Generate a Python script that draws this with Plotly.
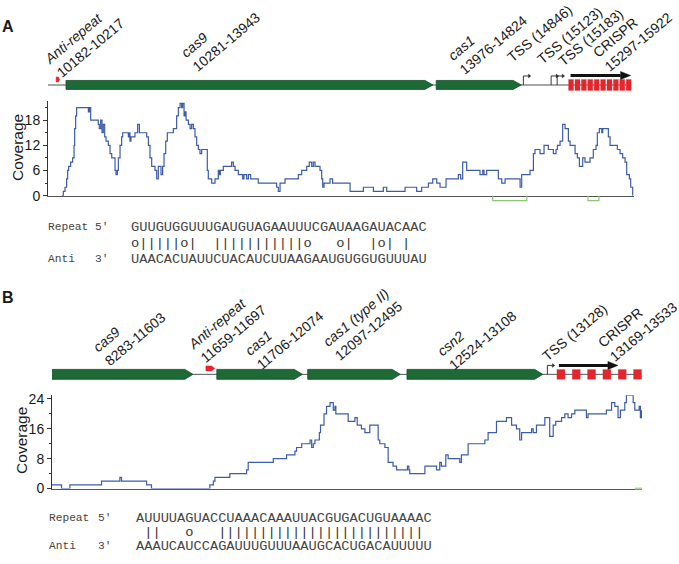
import plotly.graph_objects as go

W, H = 679, 564
FIG_W, FIG_H = 679, 572   # fills the browser viewport; paper fractions are laid out on W x H

# ======================= DATA =======================
# ---- Panel A (genomic coordinates, bp) ----
genes_A_names = ["cas9", "cas1"]
genes_A_start = [10281, 13976]
genes_A_end = [13943, 14824]
anti_A = [10182, 10217]
tss_A = [14846, 15123, 15183]
crispr_A = [15297, 15922]
crispr_A_repeats = 10
green_A_start = [14540, 15490]
green_A_end = [14880, 15600]

cov_A_pos = [10240, 10254, 10271, 10287, 10297, 10307, 10327, 10347, 10361, 10367, 10377, 10387,
             10504, 10514, 10527, 10603, 10613, 10627, 10640, 10653, 10667, 10680, 10703, 10720,
             10737, 10770, 10780, 10793, 10803, 10820, 10836, 10846, 10903, 10913, 10919, 10929,
             10969, 10996, 11013, 11086, 11103, 11119, 11136, 11169, 11186, 11202, 11229, 11245,
             11259, 11276, 11292, 11352, 11385, 11402, 11419, 11435, 11445, 11459, 11469, 11479,
             11502, 11519, 11535, 11552, 11568, 11585, 11602, 11618, 11635, 11691, 11701, 11735,
             11768, 11801, 11811, 11821, 11851, 11934, 11951, 11968, 12001, 12044, 12057, 12084,
             12101, 12124, 12200, 12383, 12400, 12417, 12467, 12600, 12633, 12683, 12709, 12733,
             12749, 12766, 12816, 12833, 12843, 12856, 12916, 12942, 13116, 13249, 13349, 13448,
             13482, 13665, 13781, 13831, 13898, 13941, 13981, 14014, 14074, 14197, 14220, 14240,
             14280, 14413, 14440, 14453, 14480, 14596, 14630, 14663, 14813, 14829, 14912, 14946,
             14962, 15012, 15052, 15095, 15145, 15172, 15185, 15212, 15238, 15262, 15295, 15312,
             15362, 15385, 15405, 15438, 15461, 15511, 15544, 15571, 15584, 15604, 15628, 15638,
             15694, 15711, 15784, 15811, 15837, 15861, 15877, 15904, 15917, 15937]
cov_A_val = [0, 1, 2, 4, 6, 7, 8, 9, 12, 16, 19, 21,
             20, 21, 18, 17, 16, 18, 15, 17, 14, 13, 12, 10,
             9, 6, 5, 6, 9, 12, 14, 15, 14, 15, 13, 14,
             15, 17, 15, 14, 12, 9, 7, 6, 4, 7, 5, 7,
             10, 13, 15, 16, 19, 21, 22, 21, 22, 19, 20, 18,
             17, 16, 17, 16, 14, 12, 11, 10, 11, 6, 4, 3,
             4, 6, 5, 6, 7, 8, 7, 6, 5, 4, 5, 4,
             5, 4, 3, 2, 1, 3, 4, 5, 6, 7, 8, 7,
             8, 7, 6, 4, 2, 3, 4, 3, 1, 2, 1, 2,
             1, 2, 1, 2, 3, 4, 3, 2, 4, 5, 4, 8,
             6, 5, 6, 5, 6, 4, 3, 4, 2, 5, 6, 10,
             11, 10, 12, 11, 10, 11, 12, 13, 17, 16, 13, 12,
             10, 9, 7, 9, 8, 9, 11, 12, 15, 16, 15, 16,
             14, 12, 11, 10, 9, 8, 5, 4, 2, 0]

# ---- Panel B ----
genes_B_names = ["cas9", "cas1", "cas1 (type II)", "csn2"]
genes_B_start = [8283, 11706, 12097, 12524]
genes_B_end = [11603, 12074, 12495, 13108]
anti_B = [11659, 11697]
tss_B = [13128]
crispr_B = [13169, 13533]
crispr_B_repeats = 6
green_B_start = [13505]
green_B_end = [13535]

cov_B_pos = [10997, 11038, 11074, 11210, 11289, 11296, 11404, 11425, 11676, 11691, 11698, 11762,
             11834, 11841, 11949, 12006, 12042, 12049, 12071, 12107, 12114, 12121, 12128, 12147,
             12152, 12167, 12178, 12193, 12207, 12214, 12218, 12271, 12300, 12310, 12328, 12343,
             12364, 12400, 12407, 12429, 12443, 12464, 12479, 12526, 12532, 12536, 12601, 12651,
             12665, 12672, 12691, 12701, 12751, 12758, 12787, 12859, 12873, 12909, 12952, 12974,
             12995, 13009, 13017, 13060, 13067, 13081, 13117, 13138, 13153, 13164, 13189, 13203,
             13217, 13232, 13246, 13296, 13303, 13382, 13404, 13418, 13432, 13442, 13461, 13468,
             13497, 13504, 13523, 13528, 13533]
cov_B_val = [1, 0, 1, 2, 3, 2, 1, 0, 1, 2, 3, 4,
             5, 7, 8, 9, 10, 11, 12, 13, 11, 12, 13, 15,
             17, 20, 22, 23, 21, 22, 20, 18, 19, 17, 16, 15,
             17, 13, 12, 11, 7, 6, 5, 6, 5, 4, 6, 5,
             7, 6, 9, 8, 7, 9, 12, 13, 15, 18, 19, 17,
             16, 13, 15, 16, 15, 17, 19, 14, 17, 18, 19, 20,
             19, 20, 21, 19, 20, 21, 23, 22, 19, 21, 23, 25,
             23, 21, 22, 19, 21]

# ---- sequence alignments ----
repeat_A = "GUUGUGGUUUGAUGUAGAAUUUCGAUAAGAUACAAC"
match_A = "o|||||o|  |||||||||||o   o|  |o| |"
anti_seq_A = "UAACACUAUUCUACAUCUUAAGAAUGUGGUGUUUAU"
repeat_B = "AUUUUAGUACCUAAACAAAUUACGUGACUGUAAAAC"
match_B = " ||   o   |||||||||||||||||||||||||"
anti_seq_B = "AAAUCAUCCAGAUUUGUUUAAUGCACUGACAUUUUU"

# ======================= LAYOUT / STYLE =======================
A_XRANGE = [10101, 15950]
B_XRANGE = [10997, 13535]
A_PX = (48, 634)
B_PX = (52, 642)
A_COV_PY = (98, 193)
B_COV_PY = (394, 488)
A_TRACK_PY = (0, 100)
B_TRACK_PY = (280, 392)

GREEN = "#1d6a37"
GREEN_EDGE = "#124d26"
RED = "#e3262c"
COV = "#3c5ca8"
LGREEN = "#8cc873"
FONT = "Liberation Sans"
MONO = "Liberation Mono"


def fx(p):
    return p / W


def fy(p):
    return 1 - p / H


fig = go.Figure()

# ---- coverage traces ----
fig.add_trace(go.Scatter(x=cov_A_pos, y=cov_A_val, mode="lines",
                         line=dict(shape="hv", color=COV, width=1.2),
                         xaxis="x", yaxis="y", hoverinfo="skip", showlegend=False))
fig.add_trace(go.Scatter(x=cov_B_pos, y=cov_B_val, mode="lines",
                         line=dict(shape="hv", color=COV, width=1.2),
                         xaxis="x2", yaxis="y2", hoverinfo="skip", showlegend=False))


def poly(xs, ys, xa, ya, fill, edge=None, ew=0.0):
    fig.add_trace(go.Scatter(x=xs, y=ys, mode="lines", fill="toself", fillcolor=fill,
                             line=dict(color=edge or fill, width=ew),
                             xaxis=xa, yaxis=ya, hoverinfo="skip", showlegend=False))


def line(xs, ys, xa, ya, color, width):
    fig.add_trace(go.Scatter(x=xs, y=ys, mode="lines", line=dict(color=color, width=width),
                             xaxis=xa, yaxis=ya, hoverinfo="skip", showlegend=False))


def draw_track(xa, ya, xrange, pxr, yc, hh, starts, ends, anti, tss, crispr, nrep,
               box_px, box_hh, arrow_y, arrow_px, back_color, back_w, anti_dy):
    bp_per_px = (xrange[1] - xrange[0]) / (pxr[1] - pxr[0])
    # backbone
    line([xrange[0], crispr[1]], [yc, yc], xa, ya, back_color, back_w)
    # genes
    tip = 8 * bp_per_px
    for s, e in zip(starts, ends):
        poly([s, e - tip, e, e - tip, s, s], [yc - hh, yc - hh, yc, yc + hh, yc + hh, yc - hh],
             xa, ya, GREEN, GREEN_EDGE, 0.8)
    # anti-repeat marker
    s, e = anti
    t = 0.35 * (e - s)
    ay = yc - anti_dy
    poly([s, e - t, e, e - t, s, s], [ay - 2.5, ay - 2.5, ay, ay + 2.5, ay + 2.5, ay - 2.5],
         xa, ya, RED, RED, 0.5)
    # CRISPR repeats
    bw = box_px * bp_per_px
    pitch = (crispr[1] - crispr[0] - bw) / (nrep - 1)
    bx, by = [], []
    for i in range(nrep):
        x0 = crispr[0] + i * pitch
        bx += [x0, x0 + bw, x0 + bw, x0, x0, None]
        by += [yc - box_hh, yc - box_hh, yc + box_hh, yc + box_hh, yc - box_hh, None]
    poly(bx, by, xa, ya, RED, RED, 0.3)
    # transcription arrow
    x0 = crispr[0] + 2 * bp_per_px
    x1 = x0 + arrow_px * bp_per_px
    head = 10 * bp_per_px
    line([x0, x1 - head], [arrow_y, arrow_y], xa, ya, "#111111", 3)
    poly([x1 - head, x1, x1 - head, x1 - head], [arrow_y - 4, arrow_y, arrow_y + 4, arrow_y - 4],
         xa, ya, "#111111", "#111111", 0.5)
    # TSS bent arrows
    for tx in tss:
        top = yc - 9
        xr = tx + 5 * bp_per_px
        line([tx, tx, xr], [yc, top, top], xa, ya, "#222222", 0.9)
        poly([xr, xr + 2.5 * bp_per_px, xr, xr], [top - 2, top, top + 2, top - 2],
             xa, ya, "#222222", "#222222", 0.3)


draw_track("x", "y3", A_XRANGE, A_PX, 81.5, 4.5, genes_A_start, genes_A_end, anti_A, tss_A,
           crispr_A, crispr_A_repeats, 5, 5.5, 72, 60, "#8a8a8a", 1.5, 5.5)
draw_track("x2", "y4", B_XRANGE, B_PX, 373, 5, genes_B_start, genes_B_end, anti_B, tss_B,
           crispr_B, crispr_B_repeats, 8, 5, 364, 59, "#555555", 1.0, 6)

shapes = []
# green brackets under panel A coverage axis
for s, e in zip(green_A_start, green_A_end):
    shapes.append(dict(type="path", xref="x", yref="paper",
                       path=f"M {s},{fy(A_COV_PY[1])} L {s},{fy(A_COV_PY[1] + 5)} "
                            f"L {e},{fy(A_COV_PY[1] + 5)} L {e},{fy(A_COV_PY[1])}",
                       line=dict(color=LGREEN, width=1.2)))
for s, e in zip(green_B_start, green_B_end):
    shapes.append(dict(type="line", xref="x2", yref="paper", x0=s, x1=e,
                       y0=fy(B_COV_PY[1]), y1=fy(B_COV_PY[1]),
                       line=dict(color="#a6d98a", width=2)))

annotations = []


def ann(text, x, y, size, angle=0, family=FONT, color="#1a1a1a", xanchor="center",
        yanchor="middle", align="left"):
    annotations.append(dict(text=text, x=fx(x), y=fy(y), xref="paper", yref="paper",
                            showarrow=False, textangle=angle, xanchor=xanchor, yanchor=yanchor,
                            align=align, font=dict(family=family, size=size, color=color)))


# panel letters
ann("<b>A</b>", 8, 23, 16)
ann("<b>B</b>", 8, 296, 16)

# gene labels (centers in px)
LABEL_ANGLE = -40
labels_A = [f"<i>Anti-repeat</i><br>{anti_A[0]}-{anti_A[1]}"] + \
           [f"<i>{n}</i><br>{s}-{e}" for n, s, e in zip(genes_A_names, genes_A_start, genes_A_end)] + \
           [f"TSS ({t})" for t in tss_A] + [f"CRISPR<br>{crispr_A[0]}-{crispr_A[1]}"]
pos_A = [(84, 37), (220, 31), (487, 34), (539, 30), (569, 32), (590, 34), (632, 31)]
labels_B = [f"<i>{genes_B_names[0]}</i><br>{genes_B_start[0]}-{genes_B_end[0]}",
            f"<i>Anti-repeat</i><br>{anti_B[0]}-{anti_B[1]}"] + \
           [f"<i>{n}</i><br>{s}-{e}" for n, s, e in zip(genes_B_names[1:], genes_B_start[1:], genes_B_end[1:])] + \
           [f"TSS ({t})" for t in tss_B] + [f"CRISPR<br>{crispr_B[0]}-{crispr_B[1]}"]
pos_B = [(129, 330), (227, 325), (284, 331), (362, 322), (477, 331), (574, 331), (637, 323)]
for t, (x, y) in zip(labels_A, pos_A):
    ann(t, x, y, 14, LABEL_ANGLE)
for t, (x, y) in zip(labels_B, pos_B):
    ann(t, x, y, 14, LABEL_ANGLE)

# y-axis titles
ann("Coverage", 18, 145, 15.5, -90)
ann("Coverage", 22, 440, 15.5, -90)

# sequence alignments
NB = "\u00a0"


def seq_block(x_lab, x_prime, x_seq, ys, rep, match, anti):
    tcol = "#444444"
    ann("Repeat", x_lab, ys[0], 11.2, family=MONO, color=tcol, xanchor="left")
    ann("5\u2032", x_prime, ys[0], 11.2, family=MONO, color=tcol, xanchor="left")
    ann(rep, x_seq, ys[0], 13.7, family=MONO, color=tcol, xanchor="left")
    ann(match.replace(" ", NB), x_seq, ys[1], 13.7, family=MONO, color="#333333", xanchor="left")
    ann("Anti", x_lab, ys[2], 11.2, family=MONO, color=tcol, xanchor="left")
    ann("3\u2032", x_prime, ys[2], 11.2, family=MONO, color=tcol, xanchor="left")
    ann(anti, x_seq, ys[2], 13.7, family=MONO, color=tcol, xanchor="left")


seq_block(46, 93, 129, (225, 241, 257), repeat_A, match_A, anti_seq_A)
seq_block(47, 96, 134, (518, 532, 546), repeat_B, match_B, anti_seq_B)

axis_common = dict(showgrid=False, zeroline=False)
fig.update_layout(
    width=FIG_W, height=FIG_H, margin=dict(l=0, r=0, t=0, b=0),
    paper_bgcolor="white", plot_bgcolor="rgba(0,0,0,0)", showlegend=False,
    font=dict(family=FONT, color="#1a1a1a"),
    xaxis=dict(domain=[fx(A_PX[0]), fx(A_PX[1])], range=A_XRANGE, anchor="y",
               showline=True, linecolor="#555555", linewidth=1, showticklabels=False, ticks="",
               **axis_common),
    yaxis=dict(domain=[fy(A_COV_PY[1]), fy(A_COV_PY[0])], range=[0, 22.5], anchor="x",
               tickvals=[0, 6, 12, 18], ticks="outside", ticklen=4, tickcolor="#333333",
               showline=True, linecolor="#333333", linewidth=1,
               tickfont=dict(size=14, family=FONT, color="#1a1a1a"),
               minor=dict(tickvals=[3, 9, 15, 21], ticks="outside", ticklen=2,
                          tickcolor="#333333", showgrid=False),
               **axis_common),
    xaxis2=dict(domain=[fx(B_PX[0]), fx(B_PX[1])], range=B_XRANGE, anchor="y2",
                showline=True, linecolor="#555555", linewidth=1, showticklabels=False, ticks="",
                **axis_common),
    yaxis2=dict(domain=[fy(B_COV_PY[1]), fy(B_COV_PY[0])], range=[0, 25], anchor="x2",
                tickvals=[0, 8, 16, 24], ticks="outside", ticklen=4, tickcolor="#333333",
                showline=True, linecolor="#333333", linewidth=1,
                tickfont=dict(size=14, family=FONT, color="#1a1a1a"),
                minor=dict(tickvals=[4, 12, 20], ticks="outside", ticklen=2,
                           tickcolor="#333333", showgrid=False),
                **axis_common),
    yaxis3=dict(domain=[fy(A_TRACK_PY[1]), fy(A_TRACK_PY[0])],
                range=[A_TRACK_PY[1], A_TRACK_PY[0]], anchor="x", visible=False, **axis_common),
    yaxis4=dict(domain=[fy(B_TRACK_PY[1]), fy(B_TRACK_PY[0])],
                range=[B_TRACK_PY[1], B_TRACK_PY[0]], anchor="x2", visible=False, **axis_common),
    shapes=shapes, annotations=annotations,
)

fig.write_html("out.html", config={"displayModeBar": False},
               post_script="document.body.style.margin='0';document.body.style.overflow='hidden';")
